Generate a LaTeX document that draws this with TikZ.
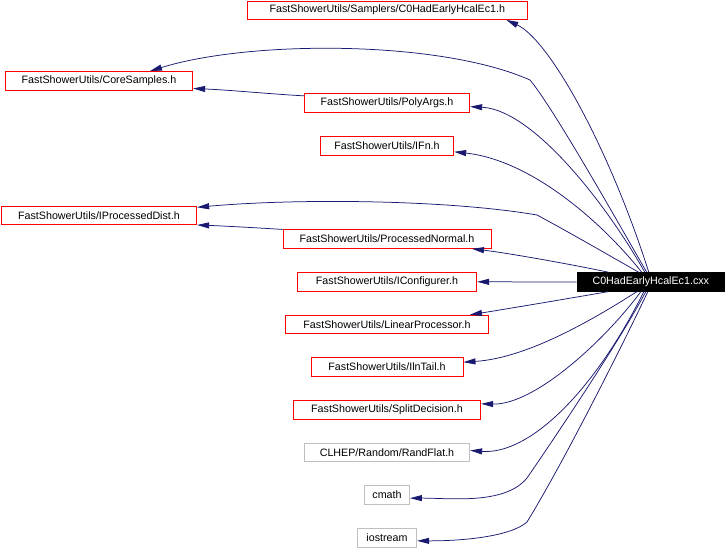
\documentclass[tikz,border=0pt]{standalone}
\usepackage{fontspec}
\setmainfont{Liberation Sans}
\usepackage{tikz}
\usetikzlibrary{arrows.meta}
\definecolor{edgeblue}{HTML}{191970}
\definecolor{boxred}{HTML}{FF0000}
\definecolor{boxgrey}{HTML}{BFBFBF}
\tikzstyle{hdrfile} = [rectangle, draw=boxred, line width=0.9pt, minimum height=18.5pt, inner ysep=0pt, text centered, font=\fontsize{10.7}{12}\selectfont]
\tikzstyle{sysfile} = [hdrfile, draw=boxgrey]
\tikzstyle{srcfile} = [hdrfile, draw=black, fill=black, text=white]
\tikzstyle{incl} = [draw=edgeblue, line width=0.75pt, -{Triangle[length=12pt,width=6pt]}]

\begin{document}
\begin{tikzpicture}[x=1pt, y=-1pt, node distance=42.67pt]
\useasboundingbox (0,0) rectangle (728,549);
\node (samplers) [hdrfile, minimum width=280pt] at (387.3,10.2) {FastShowerUtils/Samplers/C0HadEarlyHcalEc1.h};
\node (coresamples) [hdrfile, minimum width=187.4pt] at (99,80.8) {FastShowerUtils/CoreSamples.h};
\node (ifn) [hdrfile, minimum width=133.4pt] at (387,145.8) {FastShowerUtils/IFn.h};
\node (polyargs) [hdrfile, minimum width=165.4pt, above of = ifn] {FastShowerUtils/PolyArgs.h};
\node (procdist) [hdrfile, minimum width=195.4pt] at (99,215.3) {FastShowerUtils/IProcessedDist.h};
\node (iconfig) [hdrfile, minimum width=179.4pt] at (387,281.8) {FastShowerUtils/IConfigurer.h};
\node (procnormal) [hdrfile, minimum width=208pt, above of = iconfig] {FastShowerUtils/ProcessedNormal.h};
\node (linproc) [hdrfile, minimum width=203pt, below of = iconfig] {FastShowerUtils/LinearProcessor.h};
\node (ilntail) [hdrfile, minimum width=152pt, below of = linproc] {FastShowerUtils/IlnTail.h};
\node (splitdec) [hdrfile, minimum width=187.4pt, below of = ilntail] {FastShowerUtils/SplitDecision.h};
\node (randflat) [sysfile, minimum width=165.4pt, below of = splitdec] {CLHEP/Random/RandFlat.h};
\node (cmath) [sysfile, minimum width=45pt, below of = randflat] {cmath};
\node (iostream) [sysfile, minimum width=59.4pt, below of = cmath] {iostream};
\node (cxx) [srcfile, minimum width=147.7pt] at (650.8,282) {C0HadEarlyHcalEc1.cxx};

% upper includes
\draw [incl] ([xshift=-2pt]cxx.north) .. controls (610,150) and (550,40) .. ([xshift=119pt]samplers.south);
\draw [incl] ([xshift=-4pt]cxx.north) .. controls (625,235) and (555,110) .. (530,80) .. controls (440,40) and (250,40) .. ([xshift=51pt]coresamples.north);
\draw [incl] ([xshift=-6pt]cxx.north) .. controls (610,210) and (535,110) .. ([yshift=-3.5pt]polyargs.east);
\draw [incl] ([xshift=-9pt]cxx.north) .. controls (600,220) and (530,160) .. ([yshift=-6pt]ifn.east);
\draw [incl] ([xshift=-12pt]cxx.north) .. controls (605,253) and (565,230) .. (537,215) .. controls (450,200) and (300,198) .. ([yshift=8pt]procdist.east);
\draw [incl] ([xshift=-42pt]cxx.north) .. controls (560,262) and (500,252) .. ([xshift=85pt]procnormal.south);
\draw [incl] (cxx.west) -- (iconfig.east);
% lower includes
\draw [incl] ([xshift=-43pt]cxx.south) .. controls (560,300) and (500,310) .. ([xshift=83pt]linproc.north);
\draw [incl] ([xshift=-14pt]cxx.south) .. controls (600,315) and (530,358) .. ([yshift=5pt]ilntail.east);
\draw [incl] ([xshift=-10pt]cxx.south) .. controls (605,340) and (535,405) .. ([yshift=6pt]splitdec.east);
\draw [incl] ([xshift=-7pt]cxx.south) .. controls (595,390) and (530,455) .. ([yshift=2pt]randflat.east);
\draw [incl] ([xshift=-5pt]cxx.south) .. controls (620,340) and (560,430) .. (527,478) .. controls (505,505) and (450,498) .. ([yshift=-3pt]cmath.east);
\draw [incl] ([xshift=-3pt]cxx.south) .. controls (625,340) and (565,460) .. (527,522) .. controls (510,537) and (460,541) .. ([yshift=-3pt]iostream.east);
% header to header
\draw [incl] ([yshift=-2.4pt]polyargs.north west) .. controls (270,94) and (230,90) .. ([yshift=2pt]coresamples.south east);
\draw [incl] (procnormal.north west) .. controls (260,228) and (225,226) .. (procdist.south east);
\end{tikzpicture}
\end{document}
